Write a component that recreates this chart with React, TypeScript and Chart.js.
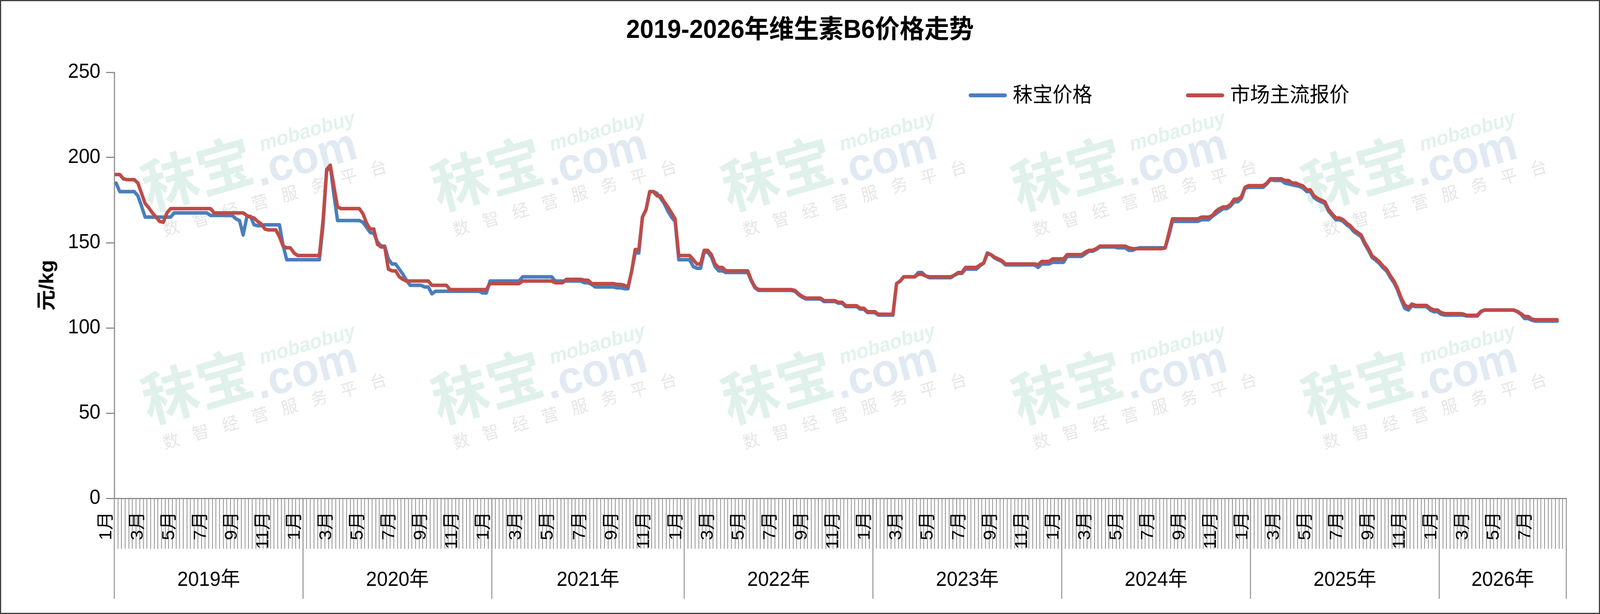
import React, { useEffect, useRef } from 'react';
import { Chart, registerables } from 'chart.js';

Chart.register(...registerables);

const W = 4270;
const H = 1571;
const FONT = "'Liberation Sans', 'Noto Sans CJK SC', sans-serif";
const CJK = "'Noto Sans CJK SC', sans-serif";

const TITLE = '2019-2026年维生素B6价格走势';
const Y_TITLE = '元/kg';
const SERIES_NAMES = ['秣宝价格', '市场主流报价'];
const SERIES_COLORS = ['#4A7EBB', '#BE4B48'];
const YEARS = ['2019年', '2020年', '2021年', '2022年', '2023年', '2024年', '2025年', '2026年'];
const YEAR_WEEKS = [52, 52, 53, 52, 52, 52, 52, 35];
const MONTH_TICKS = [1, 3, 5, 7, 9, 11];
const Y_MIN = 0;
const Y_MAX = 250;
const Y_STEP = 50;

// 秣宝价格 (weekly)
const MOBAO_PRICE = [
  185, 180, 180, 180, 180, 180, 177.5, 171.5, 165, 165,
  165, 165, 165, 165, 165, 165, 167.5, 167.5, 167.5, 167.5,
  167.5, 167.5, 167.5, 167.5, 167.5, 167.5, 166, 166, 166, 166,
  166, 166, 166, 164, 163, 154.5, 165, 165.5, 160.5, 160,
  160, 160.5, 160.5, 160.5, 160.5, 160.5, 148.5, 140, 140, 140,
  140, 140, 140, 140, 140, 140, 140, 160, 192, 195,
  178, 163, 163, 163, 163, 163, 163, 163, 162, 159,
  156, 155.5, 150.5, 148, 148, 140.5, 137.5, 137.5, 134.5, 131.5,
  128, 125, 125, 125, 125, 124, 124, 120, 121.5, 121.5,
  121.5, 121.5, 121.5, 121.5, 121.5, 121.5, 121.5, 121.5, 121.5, 121.5,
  121.5, 120.5, 120.5, 127.5, 127.5, 127.5, 127.5, 127.5, 127.5, 127.5,
  127.5, 127.5, 130, 130, 130, 130, 130, 130, 130, 130,
  130, 127.5, 127.5, 127.5, 127.5, 127.5, 127.5, 127.5, 127.5, 126.5,
  126.5, 125.5, 124, 124, 124, 124, 124, 124, 123.5, 123.5,
  123, 123, 133, 144, 144, 165, 169.5, 180, 180, 179,
  176, 173, 168.5, 165, 162.5, 140, 140, 140, 140, 136,
  135, 135, 144.5, 144.5, 141.5, 136, 133.5, 133.5, 132.5, 132.5,
  132.5, 132.5, 132.5, 132.5, 132.5, 127.5, 123.5, 122, 122, 122,
  122, 122, 122, 122, 122, 122, 122, 121.5, 119.5, 118,
  117, 117, 117, 117, 117, 115.5, 115.5, 115.5, 115.5, 114.5,
  114.5, 112.5, 112.5, 112.5, 112.5, 111, 111, 109, 109, 109,
  107.5, 107.5, 107.5, 107.5, 107.5, 126, 127.5, 130, 130, 130,
  130, 132.5, 132.5, 130.5, 129.5, 129.5, 129.5, 129.5, 129.5, 129.5,
  129.5, 131, 132, 132, 134.5, 134.5, 134.5, 134.5, 136.5, 138,
  144, 143, 141, 140, 139, 137, 137, 137, 137, 137,
  137, 137, 137, 137, 135.5, 137.5, 137.5, 137.5, 138.5, 138.5,
  138.5, 138.5, 142, 142, 142, 142, 142, 143.5, 145, 145,
  146, 147.5, 147.5, 147.5, 147.5, 147.5, 147, 147, 147, 145.5,
  145.5, 146.5, 147, 147, 147, 147, 147, 147, 147, 147,
  154, 162.5, 162.5, 162.5, 162.5, 162.5, 162.5, 162.5, 162.5, 163.5,
  163.5, 163.5, 165.5, 167, 168.5, 170, 170, 171.5, 174, 174,
  176, 182, 182.5, 182.5, 182.5, 182.5, 182.5, 184.5, 187, 186.5,
  186.5, 186.5, 185, 184.5, 184, 183.5, 183, 182, 180, 180,
  176.5, 175, 174, 173, 168.5, 166, 163.5, 163.5, 162.5, 160.5,
  159, 156.5, 155, 153.5, 149, 145.5, 141.3, 139.7, 137.8, 135.3,
  133.4, 129.7, 126.6, 122.3, 116.5, 111.5, 110.5, 113, 112.5, 112.5,
  112.5, 112.5, 110.5, 109.5, 109.5, 108, 107.5, 107.5, 107.5, 107.5,
  107.5, 107.5, 107, 107, 107, 107, 109.5, 110.5, 110.5, 110.5,
  110.5, 110.5, 110.5, 110.5, 110.5, 110.5, 109.5, 108, 105.5, 105.5,
  104.5, 104, 104, 104, 104, 104, 104, 104,
];

// 市场主流报价 (weekly)
const MARKET_PRICE = [
  190, 190, 187.5, 187, 187, 187, 185, 179, 173, 170.5,
  167.5, 165, 162.5, 162, 167.5, 170, 170, 170, 170, 170,
  170, 170, 170, 170, 170, 170, 170, 167.5, 167.5, 167.5,
  167.5, 167.5, 167.5, 167.5, 167.5, 167.5, 166, 165, 164.5, 162.5,
  161, 158, 157.5, 157.5, 157.5, 153.5, 148, 147, 147, 144,
  142.5, 142.5, 142.5, 142.5, 142.5, 142.5, 142.5, 163, 193, 195.5,
  183, 171, 170, 170, 170, 170, 170, 170, 167, 161.5,
  158, 158, 149, 147.5, 147.5, 134.5, 133.5, 133.5, 130, 128.5,
  127.5, 127.5, 127.5, 127.5, 127.5, 127.5, 127.5, 125, 125, 125,
  125, 125, 122.5, 122.5, 122.5, 122.5, 122.5, 122.5, 122.5, 122.5,
  122.5, 122.5, 122.5, 126, 126, 126, 126, 126, 126, 126,
  126, 126, 127.5, 127.5, 127.5, 127.5, 127.5, 127.5, 127.5, 127.5,
  127.5, 126.5, 126.5, 126.5, 128.5, 128.5, 128.5, 128.5, 128.5, 128,
  128, 126, 126, 126, 126, 126, 126, 126, 125.5, 125.5,
  125, 124, 133, 146, 146, 165, 169.5, 180, 180, 177.5,
  177.5, 174, 171, 167.5, 164, 142.5, 142.5, 142.5, 142.5, 140,
  137.5, 137.5, 145.5, 145.5, 143, 137.5, 135.5, 135.5, 133.5, 133.5,
  133.5, 133.5, 133.5, 133.5, 133.5, 128, 124, 122.5, 122.5, 122.5,
  122.5, 122.5, 122.5, 122.5, 122.5, 122.5, 122.5, 122, 120, 118.5,
  117.5, 117.5, 117.5, 117.5, 117.5, 116, 116, 116, 116, 115,
  115, 113, 113, 113, 113, 111.5, 111.5, 109.5, 109.5, 109.5,
  108, 108, 108, 108, 108, 126, 127.5, 130, 130, 130,
  130, 131.5, 131.5, 130.5, 130, 130, 130, 130, 130, 130,
  130, 131, 132.5, 132.5, 135.5, 135.5, 135.5, 135.5, 137, 138,
  143.5, 143, 141.5, 140.5, 139.5, 137.5, 137.5, 137.5, 137.5, 137.5,
  137.5, 137.5, 137.5, 137.5, 137, 139, 139, 139, 140.5, 140.5,
  140.5, 140.5, 143, 143, 143, 143, 143, 144.5, 145.5, 145.5,
  146.5, 148, 148, 148, 148, 148, 148, 148, 148, 147,
  146.5, 146.5, 146.5, 146.5, 146.5, 146.5, 146.5, 146.5, 146.5, 147,
  155.5, 164, 164, 164, 164, 164, 164, 164, 164, 165,
  165, 165, 166, 168.5, 170, 171, 171, 172.5, 175.5, 175.5,
  177, 182.5, 183.5, 183.5, 183.5, 183.5, 183.5, 185, 187.5, 187.5,
  187.5, 187.5, 186.5, 186.5, 185, 185, 184, 183.3, 181, 181,
  177.5, 176, 175, 174, 169.5, 167, 164.5, 164.5, 163.5, 161.5,
  160, 157.5, 156, 154.5, 150, 146.5, 142.3, 140.7, 138.8, 136.3,
  134.4, 130.7, 127.6, 123.3, 117.7, 113.5, 112, 114, 113.2, 113.2,
  113.2, 113.2, 111.6, 110.5, 110.5, 109, 108.4, 108.4, 108.4, 108.4,
  108.4, 108.2, 107.4, 107.4, 107.4, 107.4, 109.7, 110.5, 110.5, 110.5,
  110.5, 110.5, 110.5, 110.5, 110.5, 110.5, 109.7, 108.4, 106.7, 106.7,
  105.2, 104.8, 104.8, 104.8, 104.8, 104.8, 104.8, 104.8,
];

// one category per week
const WEEK_LABELS: string[] = [];
YEARS.forEach((y, yi) => {
  for (let k = 0; k < YEAR_WEEKS[yi]; k++) WEEK_LABELS.push(`${y}W${k + 1}`);
});

function drawWatermark(ctx: CanvasRenderingContext2D, x: number, y: number) {
  ctx.save();
  ctx.translate(x, y);
  ctx.rotate((-15.5 * Math.PI) / 180);
  ctx.textAlign = 'left';
  ctx.textBaseline = 'alphabetic';
  ctx.fillStyle = '#e0f1ec';
  ctx.font = `bold 150px ${CJK}`;
  ctx.fillText('秣宝', 0, -14);
  ctx.fillStyle = '#e1e9f2';
  ctx.font = `bold 118px ${FONT}`;
  ctx.fillText('.com', 302, 6);
  ctx.fillStyle = '#e2f2ed';
  ctx.font = `italic bold 52px ${FONT}`;
  ctx.fillText('mobaobuy', 330, -80);
  ctx.fillStyle = '#e6e6e6';
  ctx.font = `44px ${CJK}`;
  ctx.textAlign = 'center';
  ctx.textBaseline = 'middle';
  '数智经营服务平台'.split('').forEach((c, i) => ctx.fillText(c, 45 + 82 * i, 44));
  ctx.restore();
}

const decorPlugin = {
  id: 'decor',
  beforeDraw(chart: any) {
    const ctx = chart.ctx as CanvasRenderingContext2D;
    ctx.save();
    ctx.fillStyle = '#ffffff';
    ctx.fillRect(0, 0, chart.width, chart.height);
    ctx.restore();
  },
  beforeDatasetsDraw(chart: any) {
    const ctx = chart.ctx as CanvasRenderingContext2D;
    for (let r = 0; r < 2; r++) {
      for (let k = 0; k < 5; k++) {
        drawWatermark(ctx, 401 + 774 * k, 552 + 545 * r);
      }
    }
  },
  afterDraw(chart: any) {
    const ctx = chart.ctx as CanvasRenderingContext2D;
    const xs = chart.scales.x;
    const n = WEEK_LABELS.length;
    const w = xs.getPixelForValue(1) - xs.getPixelForValue(0);
    const b = (k: number) => xs.getPixelForValue(k) - w / 2;
    const y0 = chart.chartArea.bottom;

    ctx.save();
    // week hatch
    ctx.strokeStyle = '#8c8c8c';
    ctx.lineWidth = 2;
    ctx.beginPath();
    for (let k = 1; k <= n; k++) {
      const x = Math.round(b(k));
      ctx.moveTo(x, y0 + 2);
      ctx.lineTo(x, y0 + 129);
    }
    ctx.stroke();

    // year separators
    let start = 0;
    ctx.lineWidth = 2.5;
    ctx.beginPath();
    ctx.moveTo(b(0), y0);
    ctx.lineTo(b(0), y0 + 257);
    YEARS.forEach((_, yi) => {
      const end = start + YEAR_WEEKS[yi];
      ctx.moveTo(b(end), y0);
      ctx.lineTo(b(end), y0 + 257);
      start = end;
    });
    ctx.stroke();

    // year + month labels
    ctx.fillStyle = '#000000';
    start = 0;
    YEARS.forEach((label, yi) => {
      const weeks = YEAR_WEEKS[yi];
      const full = Math.max(52, weeks);
      ctx.font = `52px ${FONT}`;
      ctx.textAlign = 'center';
      ctx.textBaseline = 'middle';
      ctx.fillText(label, (b(start) + b(start + weeks)) / 2, y0 + 210);
      ctx.font = `47px ${FONT}`;
      MONTH_TICKS.forEach((m) => {
        const rel = ((m - 1) / 12) * full;
        if (rel > weeks - 1) return;
        const x = b(start) + (rel - 2.2) * w;
        ctx.save();
        ctx.translate(x, y0 + 34);
        ctx.rotate(-Math.PI / 2);
        ctx.textAlign = 'right';
        ctx.textBaseline = 'middle';
        ctx.fillText(`${m}月`, 0, 0);
        ctx.restore();
      });
      start += weeks;
    });

    // title
    ctx.font = `bold 66px ${FONT}`;
    ctx.textAlign = 'center';
    ctx.textBaseline = 'alphabetic';
    ctx.fillText(TITLE, chart.width / 2, 97);

    // legend
    const legend = [
      { x: 2590, tx: 2703 },
      { x: 3170, tx: 3283 },
    ];
    legend.forEach((l, i) => {
      ctx.strokeStyle = SERIES_COLORS[i];
      ctx.lineWidth = 10;
      ctx.lineCap = 'round';
      ctx.beginPath();
      ctx.moveTo(l.x, 244);
      ctx.lineTo(l.x + 92, 244);
      ctx.stroke();
      ctx.fillStyle = '#000000';
      ctx.font = `53px ${FONT}`;
      ctx.textAlign = 'left';
      ctx.textBaseline = 'middle';
      ctx.fillText(SERIES_NAMES[i], l.tx, 246);
    });

    // outer border
    ctx.strokeStyle = '#404040';
    ctx.lineWidth = 3;
    ctx.lineCap = 'butt';
    ctx.strokeRect(1.5, 1.5, chart.width - 3, chart.height - 3);
    ctx.restore();
  },
};

export default function App() {
  const canvasRef = useRef<HTMLCanvasElement | null>(null);

  useEffect(() => {
    document.body.style.margin = '0';
    document.body.style.overflow = 'hidden';
    const canvas = canvasRef.current;
    if (!canvas) return;
    const chart = new Chart(canvas, {
      type: 'line',
      data: {
        labels: WEEK_LABELS,
        datasets: [
          {
            label: SERIES_NAMES[0],
            data: MOBAO_PRICE,
            borderColor: SERIES_COLORS[0],
            backgroundColor: SERIES_COLORS[0],
            borderWidth: 9,
            pointRadius: 0,
            tension: 0,
            borderJoinStyle: 'round',
            borderCapStyle: 'round',
            order: 2,
          },
          {
            label: SERIES_NAMES[1],
            data: MARKET_PRICE,
            borderColor: SERIES_COLORS[1],
            backgroundColor: SERIES_COLORS[1],
            borderWidth: 9,
            pointRadius: 0,
            tension: 0,
            borderJoinStyle: 'round',
            borderCapStyle: 'round',
            order: 1,
          },
        ],
      },
      options: {
        responsive: false,
        animation: false,
        devicePixelRatio: 1,
        layout: { padding: { left: 96, right: 90, top: 185, bottom: 36 } },
        plugins: {
          legend: { display: false },
          title: { display: false },
          tooltip: { enabled: false },
        },
        scales: {
          x: {
            type: 'category',
            offset: true,
            ticks: { display: false },
            grid: { display: false },
            border: { display: true, color: '#8c8c8c', width: 3 },
            afterFit: (s: any) => {
              s.height = 260;
            },
          },
          y: {
            min: Y_MIN,
            max: Y_MAX,
            ticks: {
              stepSize: Y_STEP,
              color: '#000000',
              padding: 15,
              font: { family: FONT, size: 52 },
            },
            grid: {
              display: true,
              drawOnChartArea: false,
              drawTicks: true,
              tickLength: 22,
              color: '#8c8c8c',
              lineWidth: 3,
            },
            border: { display: true, color: '#8c8c8c', width: 3 },
            title: {
              display: true,
              text: Y_TITLE,
              color: '#000000',
              font: { family: FONT, size: 53, weight: 'bold' },
              padding: { top: 0, bottom: 0 },
            },
            afterFit: (s: any) => {
              s.width = 209;
            },
          },
        },
      },
      plugins: [decorPlugin],
    });
    return () => chart.destroy();
  }, []);

  // The chart is drawn at 4270x1571 and shown stretched to the visible viewport.
  return (
    <div style={{ width: '100vw', height: '100vh', overflow: 'hidden' }}>
      <canvas
        ref={canvasRef}
        width={W}
        height={H}
        style={{ display: 'block', width: '100vw', height: '100vh' }}
      />
    </div>
  );
}
